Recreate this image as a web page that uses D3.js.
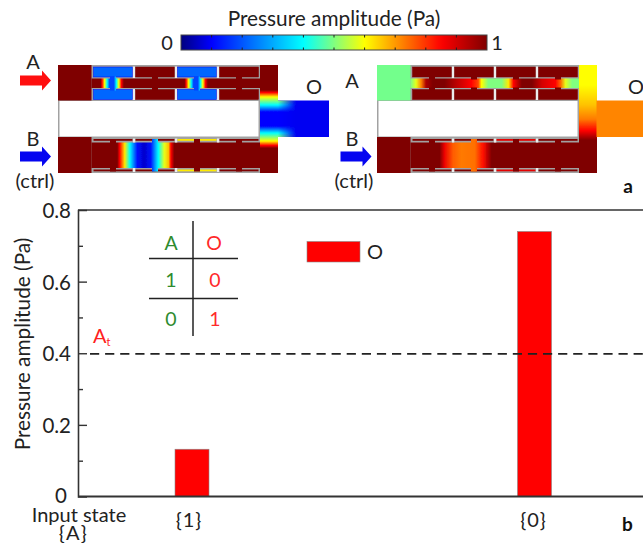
<!DOCTYPE html>
<html><head><meta charset="utf-8">
<script src="https://cdn.jsdelivr.net/npm/d3@7"></script>
<style>
html,body{margin:0;padding:0;background:#fff;overflow:hidden}
svg{display:block}
text{font-family:Lato,sans-serif;font-weight:400;fill:#222}
</style></head><body><div id="c"></div>
<script>
// ---------- chart values ----------
const categories = ["{1}", "{0}"];
const outputValues = [0.132, 0.74];
const threshold = 0.398;
const majorTicks = [0, 0.2, 0.4, 0.6, 0.8];
const minorTicks = [0.1, 0.3, 0.5, 0.7];
const truthHeader = ["A", "O"];
const truthRows = [["1", "0"], ["0", "1"]];
const colorbarTicks = [0.1, 0.2, 0.3, 0.4, 0.5, 0.6, 0.7, 0.8, 0.9];

// ---------- pressure field readings: [fraction along the channel, amplitude] ----------
const jetDomain = [0, 0.1, 0.4, 0.6, 0.85, 1];
const jetColors = ["#00007f", "#0000ff", "#00ffff", "#ffff00", "#ff0000", "#7f0000"];
const leftUpperField = [[0,1],[.05,1],[.06,.85],[.075,.6],[.09,.4],[.105,.18],[.13,.18],[.145,.4],[.16,.6],[.175,.85],[.19,1],
  [.55,1],[.56,.85],[.575,.6],[.59,.4],[.605,.18],[.63,.18],[.645,.4],[.66,.6],[.675,.85],[.69,1],[1,1]];
const leftLowerField = [[0,1],[.15,1],[.165,.85],[.195,.62],[.225,.4],[.27,.12],[.31,.06],[.35,.12],[.395,.4],[.43,.58],[.455,.66],[.47,.85],[.49,1],[1,1]];
const rightUpperField = [[0,.5],[.03,.58],[.06,.72],[.09,.95],[.13,1],[.2,1],[.27,.93],[.36,.85],[.4,.78],[.42,.6],[.46,.5],[.54,.5],[.58,.62],[.61,.85],[.66,1],[.72,1],[.78,.9],[.86,.85],[.89,.75],[.92,.58],[.96,.5],[1,.5]];
const rightLowerField = [[0,1],[.17,1],[.2,.87],[.25,.76],[.3,.73],[.38,.74],[.43,.84],[.48,1],[1,1]];
const leftJunctionField = [[0,1],[.231,1],[.255,.85],[.296,.6],[.37,.4],[.435,.1],[.565,.1],[.63,.4],[.704,.6],[.745,.85],[.77,1],[1,1]];
const rightJunctionField = [[0,.6],[.35,.66],[.6,.73],[.8,.85],[.97,1],[1,1]];
const leftOutput = 0.09;
const rightOutput = 0.72;
const leftStubField = 0.22;
const leftLowerStubs = [1, 1, 0.62, 1];
const rightLowerStubs = [1, 1, 0.88, 1];
const leftUpperStubs = [leftStubField, 1, leftStubField, 1];
const rightLeftBlock = 0.49;

const W = 643, H = 543;
const svg = d3.select("#c").append("svg").attr("width", W).attr("height", H);
const defs = svg.append("defs");
defs.append("filter").attr("id", "soft").attr("x", "-5%").attr("y", "-5%").attr("width", "110%").attr("height", "110%")
  .append("feGaussianBlur").attr("stdDeviation", 0.4);

const jet = d3.scaleLinear().domain(jetDomain).range(jetColors).clamp(true);

function grad(id, stops, x1, x2, y1, y2) {
  const g = defs.append("linearGradient").attr("id", id).attr("gradientUnits", "userSpaceOnUse")
    .attr("x1", x1).attr("x2", x2).attr("y1", y1).attr("y2", y2);
  g.selectAll("stop").data(stops).join("stop")
    .attr("offset", d => Math.min(1, d[0])).attr("stop-color", d => jet(d[1]));
}

const fade = defs.append("linearGradient").attr("id", "fade").attr("gradientUnits", "userSpaceOnUse")
  .attr("x1", 278).attr("x2", 296).attr("y1", 0).attr("y2", 0);
fade.append("stop").attr("offset", 0).attr("stop-color", "#fff");
fade.append("stop").attr("offset", 1).attr("stop-color", "#000");
defs.append("mask").attr("id", "ductMask").attr("maskUnits", "userSpaceOnUse")
  .attr("x", 270).attr("y", 90).attr("width", 40).attr("height", 60)
  .append("rect").attr("x", 270).attr("y", 90).attr("width", 40).attr("height", 60).attr("fill", "url(#fade)");

// ---------- colour bar ----------
const cbScale = d3.scaleLinear().domain([0, 1]).range([181, 487]);
grad("cb", d3.range(0, 1.001, 0.02).map(v => [v, v]), cbScale(0), cbScale(1), 0, 0);
svg.append("rect").attr("x", cbScale(0)).attr("y", 35).attr("width", cbScale(1) - cbScale(0)).attr("height", 15)
  .attr("fill", "url(#cb)").attr("stroke", "#444").attr("stroke-width", 1);
const cbTicks = svg.append("g").attr("stroke", "#222").attr("stroke-width", 1);
colorbarTicks.forEach(v => {
  cbTicks.append("line").attr("x1", cbScale(v)).attr("x2", cbScale(v)).attr("y1", 35).attr("y2", 37.5);
  cbTicks.append("line").attr("x1", cbScale(v)).attr("x2", cbScale(v)).attr("y1", 47.5).attr("y2", 50);
});
function label(x, y, t, size, anchor, color, weight) {
  return svg.append("text").attr("x", x).attr("y", y).attr("font-size", size)
    .attr("text-anchor", anchor || "middle").style("fill", color || "#222")
    .style("font-weight", weight || 400).text(t);
}
label(334, 26, "Pressure amplitude (Pa)", 20.8);
label(167, 50, "0", 20);
label(497, 50, "1", 20);

// ---------- schematic panels ----------
const WALL = "#a2a2a2", GAP = "#ececec";
function panel(dx, cfg) {
  const g = svg.append("g").attr("transform", `translate(${dx},0)`).attr("filter", "url(#soft)");
  const R = (x, y, w, h, fill) => g.append("rect").attr("x", x).attr("y", y).attr("width", w).attr("height", h).attr("fill", fill);
  const cx = i => 113 + 42 * i;
  grad(cfg.id + "u", cfg.upper, 92, 260, 0, 0);
  grad(cfg.id + "l", cfg.lower, 92, 260, 0, 0);

  R(58, 65, 220, 108, WALL);
  R(59.5, 101, 199, 35.5, "#fff");

  R(58, 65, 33.5, 35.5, jet(cfg.leftBlock));
  R(58, 137, 33.5, 36, jet(1));
  if (cfg.id === "L") {
    grad("Lj", cfg.junction, 0, 0, 65, 173);
    R(260, 65, 18, 108, "url(#Lj)");
    R(278, 100.5, 51, 36.5, jet(cfg.output));
    g.append("rect").attr("x", 277.5).attr("y", 100.5).attr("width", 19).attr("height", 36.5)
      .attr("fill", "url(#Lj)").attr("mask", "url(#ductMask)");
  } else {
    grad("Rj", cfg.junction, 0, 0, 85, 142);
    R(260, 65, 18, 108, "url(#Rj)");
    R(277.5, 100.5, 52, 36.5, jet(cfg.output));
  }
  R(91.5, 78.5, 168.5, 9.5, `url(#${cfg.id}u)`);
  R(91.5, 142.5, 168.5, 25.5, `url(#${cfg.id}l)`);

  d3.range(4).forEach(i => {
    const x = cx(i) - 19.5, w = 39;
    const ufill = jet(cfg.upStubs[i]), edge = cfg.upStubs[i] < .5 ? jet(.1) : jet(1);
    [67, 89.5].forEach(y => {
      g.append("rect").attr("x", x).attr("y", y).attr("width", w).attr("height", 10)
        .attr("fill", ufill).attr("stroke", edge).attr("stroke-width", .5);
    });
    R(cx(i) - 3, 76.5, 6, 3, ufill === jet(1) ? jet(1) : `url(#${cfg.id}u)`);
    R(cx(i) - 3, 87.5, 6, 3, ufill === jet(1) ? jet(1) : `url(#${cfg.id}u)`);
    const lf = jet(cfg.lowStubs[i]);
    [139, 169.5].forEach(y => R(x, y, w, 1.8, lf));
    R(cx(i) - 3, 139, 6, 4, `url(#${cfg.id}l)`);
    R(cx(i) - 3, 167.5, 6, 4, `url(#${cfg.id}l)`);
    if (i < 3) {
      R(cx(i) + 19.9, 66.5, 2.4, 11.5, GAP);
      R(cx(i) + 19.9, 89, 2.4, 11, GAP);
      R(cx(i) + 19.9, 138.5, 2.4, 4, GAP);
      R(cx(i) + 19.9, 168, 2.4, 4, GAP);
    }
  });
  return g;
}
panel(0, {id: "L", upper: leftUpperField, lower: leftLowerField, leftBlock: 1, junction: leftJunctionField,
  output: leftOutput, upStubs: leftUpperStubs, lowStubs: leftLowerStubs});
panel(319, {id: "R", upper: rightUpperField, lower: rightLowerField, leftBlock: rightLeftBlock, junction: rightJunctionField,
  output: rightOutput, upStubs: [1, 1, 1, 1], lowStubs: rightLowerStubs});

function arrow(x, y, color) {
  const p = d3.path();
  p.moveTo(x, y - 5); p.lineTo(x + 22, y - 5); p.lineTo(x + 22, y - 10); p.lineTo(x + 31, y);
  p.lineTo(x + 22, y + 10); p.lineTo(x + 22, y + 5); p.lineTo(x, y + 5); p.closePath();
  svg.append("path").attr("d", p.toString()).attr("fill", color);
}
arrow(20, 80.5, "#ff0f0f");
arrow(20, 156.5, "#0505f0");
arrow(340.5, 156.5, "#0505f0");

label(33, 69, "A", 20);
label(33, 146, "B", 20);
label(35, 188, "(ctrl)", 20);
label(314, 94, "O", 20);
label(352, 88, "A", 20);
label(352, 146, "B", 20);
label(354, 188, "(ctrl)", 20);
label(636, 94, "O", 20);
label(628, 193, "a", 19, "middle", "#111", 700);

// ---------- bar chart ----------
const margin = {left: 78, top: 210, bottom: 496.5};
const y = d3.scaleLinear().domain([0, 0.8]).range([margin.bottom, margin.top]);
const x = d3.scalePoint().domain(categories).range([192, 534.5]);
const barW = 34;

svg.append("g").selectAll("rect").data(categories).join("rect")
  .attr("x", d => x(d) - barW / 2)
  .attr("y", (d, i) => y(outputValues[i]))
  .attr("width", barW)
  .attr("height", (d, i) => y(0) - y(outputValues[i]))
  .attr("fill", "#ff0000").attr("stroke", "#888").attr("stroke-width", .6);

const lineCol = "#333";
const fmt = d => d === 0 ? "0" : d3.format(".1f")(d);
const yAxis = svg.append("g").attr("transform", `translate(${margin.left},0)`)
  .call(d3.axisLeft(y).tickValues(majorTicks).tickSize(-9).tickFormat(fmt));
yAxis.select(".domain").attr("stroke", lineCol).attr("stroke-width", 1.6);
yAxis.selectAll(".tick line").attr("stroke", lineCol).attr("stroke-width", 1.4);
yAxis.selectAll(".tick text").attr("font-size", 20.5).attr("x", -7).attr("dy", "0.36em").style("fill", "#222").attr("text-anchor", "end");
yAxis.selectAll(".tick").filter(d => d === 0 || d === 0.8).select("line").remove();
yAxis.selectAll(".tick").filter(d => d === 0).select("text").attr("x", -11).attr("dy", "0.3em");
svg.append("g").attr("transform", `translate(${margin.left},0)`)
  .call(d3.axisLeft(y).tickValues(minorTicks).tickSize(-5).tickFormat(""))
  .call(s => s.select(".domain").remove())
  .selectAll(".tick line").attr("stroke", lineCol).attr("stroke-width", 1.4);

svg.append("line").attr("x1", margin.left).attr("x2", W).attr("y1", y(0.8)).attr("y2", y(0.8)).attr("stroke", lineCol).attr("stroke-width", 1.6);
svg.append("line").attr("x1", margin.left).attr("x2", W).attr("y1", y(0)).attr("y2", y(0)).attr("stroke", lineCol).attr("stroke-width", 1.8);

svg.append("line").attr("x1", 90).attr("x2", W).attr("y1", y(threshold)).attr("y2", y(threshold))
  .attr("stroke", "#222").attr("stroke-width", 1.8).attr("stroke-dasharray", "9.2 5.9");

svg.append("text").attr("transform", "translate(30,344) rotate(-90)").attr("text-anchor", "middle")
  .attr("font-size", 20.8).text("Pressure amplitude (Pa)");

svg.append("g").selectAll("text").data(categories).join("text")
  .attr("x", d => x(d) - (d === "{1}" ? 3 : 1)).attr("y", 527).attr("text-anchor", "middle")
  .attr("font-size", 20).style("letter-spacing", "1px").text(d => d);
label(79, 522, "Input state", 20);
label(73.5, 540, "{A}", 20).style("letter-spacing", "1.5px");
label(627.5, 531, "b", 19, "middle", "#111", 700);

const at = svg.append("text").attr("x", 93).attr("y", 343).attr("font-size", 20).style("fill", "#ff2020");
at.append("tspan").text("A");
at.append("tspan").attr("font-size", 11).attr("dy", 3).text("t");

const tt = svg.append("g").attr("stroke", "#222").attr("stroke-width", 1.5);
tt.append("line").attr("x1", 193).attr("x2", 193).attr("y1", 221).attr("y2", 336);
[258.5, 298.5].forEach(v => tt.append("line").attr("x1", 149).attr("x2", 238).attr("y1", v).attr("y2", v));
const green = "#2e8b2e", red = "#ff2a2a";
label(171, 250, truthHeader[0], 19.5, "middle", green);
label(214, 250, truthHeader[1], 19.5, "middle", red);
[287, 326].forEach((b, i) => {
  label(171, b, truthRows[i][0], 19.5, "middle", green);
  label(215, b, truthRows[i][1], 19.5, "middle", red);
});

svg.append("rect").attr("x", 307).attr("y", 241.5).attr("width", 53).attr("height", 20.5)
  .attr("fill", "#ff0000").attr("stroke", "#888").attr("stroke-width", .6);
label(375, 258.5, "O", 20);
</script></body></html>
